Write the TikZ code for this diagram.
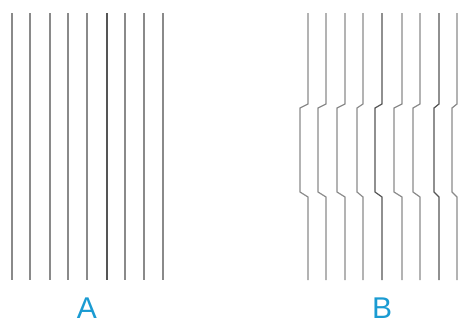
\documentclass[tikz,border=0pt]{standalone}
\usepackage{fontspec}
\setmainfont{Liberation Sans}
\definecolor{lbl}{HTML}{1A9BD2}
\definecolor{ln}{HTML}{8A8A8A}
\definecolor{lndark}{HTML}{555555}
\tikzset{
  pline/.style={draw=ln, line width=1.2pt},
  dline/.style={draw=lndark, line width=1.2pt},
  lab/.style={text=lbl, font=\fontsize{30}{31}\selectfont, inner sep=0pt, anchor=base}
}
\begin{document}
\begin{tikzpicture}[x=1pt,y=-1pt]
\useasboundingbox (0,0) rectangle (460,327);
% Pattern A: straight lines
\foreach \x in {12,30,50,68,87,125,144,163}{
  \draw[pline] (\x,13) -- (\x,280);
}
\draw[dline] (107,13) -- (107,280);
% Pattern B: lines with shifted middle section
\foreach \t/\m in {308/300,326/318,345/337,363/357,402/394,420/413,457/452}{
  \draw[pline] (\t,13) -- (\t,104) -- (\m,108) -- (\m,192) -- (\t,197) -- (\t,280);
}
\foreach \t/\m in {382/375,439/434}{
  \draw[dline] (\t,13) -- (\t,104) -- (\m,108) -- (\m,192) -- (\t,197) -- (\t,280);
}
\node[lab] (la) at (87,318) {A};
\node[lab] (lb) at (382,318) {B};
\end{tikzpicture}
\end{document}
